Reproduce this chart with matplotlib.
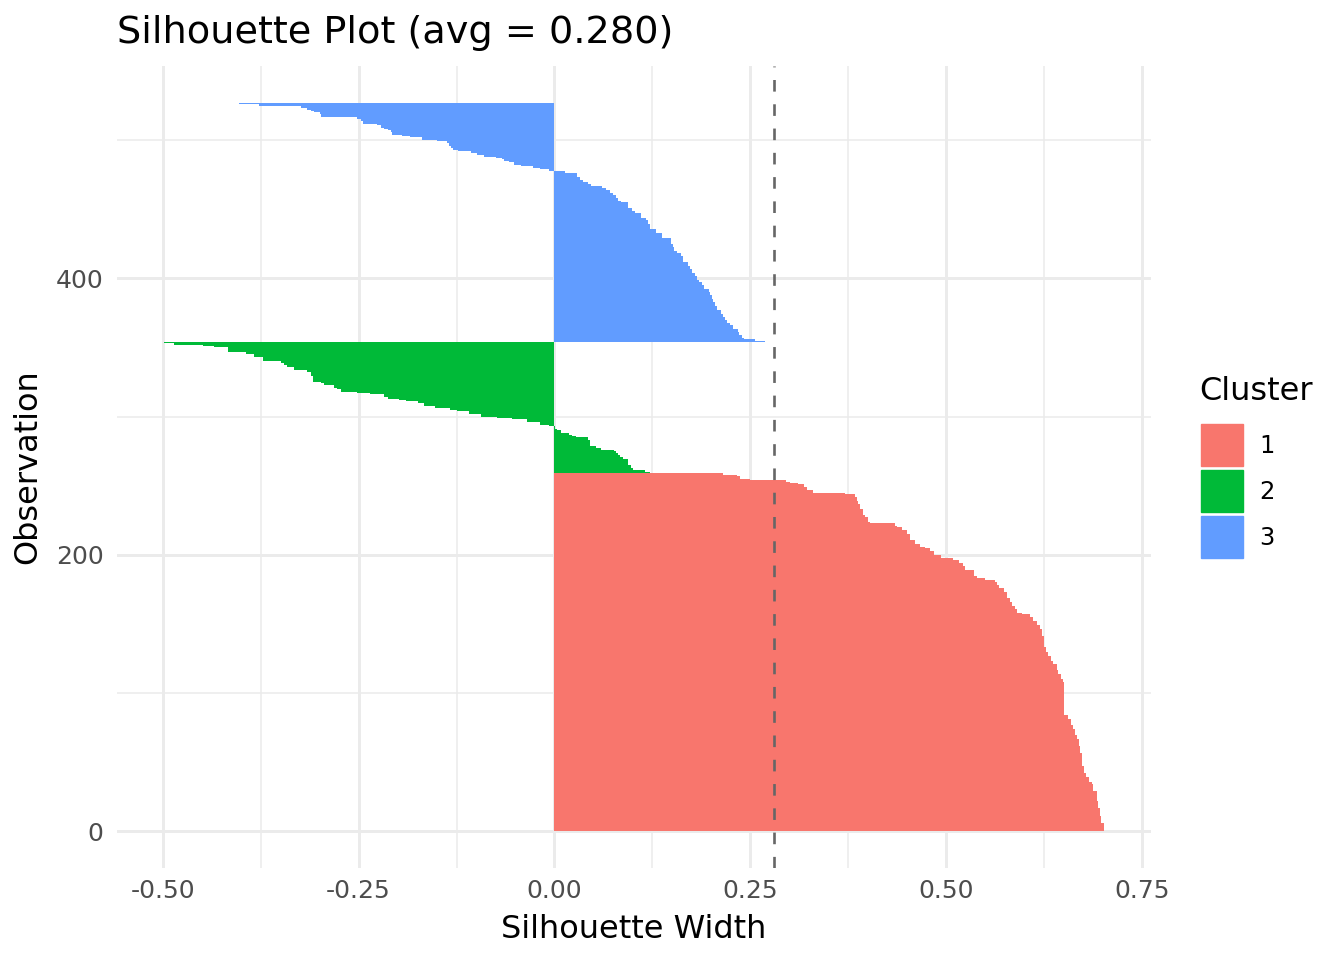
import numpy as np
import matplotlib
matplotlib.use('Agg')
import matplotlib.pyplot as plt
import matplotlib.patches as mpatches
from matplotlib.ticker import MultipleLocator

plt.rcParams['font.family'] = ['DejaVu Sans']

# silhouette widths read as runs (width, number of observations), bottom of each block upward
c1_width = [0.701, 0.698, 0.696, 0.694, 0.692, 0.688, 0.686, 0.682, 0.679, 0.676,
            0.674, 0.671, 0.669, 0.667, 0.665, 0.662, 0.659, 0.656, 0.651, 0.649,
            0.647, 0.643, 0.641, 0.637, 0.634, 0.630, 0.628, 0.625, 0.622, 0.620,
            0.616, 0.611, 0.607, 0.597, 0.591, 0.588, 0.584, 0.581, 0.578, 0.574,
            0.567, 0.565, 0.562, 0.550, 0.540, 0.535, 0.524, 0.522, 0.517, 0.509,
            0.494, 0.484, 0.480, 0.473, 0.467, 0.460, 0.454, 0.450, 0.443, 0.437,
            0.435, 0.403, 0.400, 0.397, 0.394, 0.390, 0.388, 0.386, 0.384, 0.371,
            0.330, 0.322, 0.318, 0.311, 0.301, 0.295, 0.250, 0.237, 0.233, 0.215]
c1_count = [6, 5, 6, 5, 7, 5, 2, 3, 3, 5,
            10, 5, 5, 3, 4, 3, 4, 3, 24, 2,
            4, 3, 4, 2, 4, 3, 3, 8, 5, 3,
            3, 3, 2, 1, 3, 2, 3, 3, 4, 3,
            2, 2, 2, 1, 2, 4, 3, 2, 2, 2,
            2, 3, 2, 1, 2, 3, 4, 3, 2, 1,
            2, 1, 3, 2, 4, 4, 2, 3, 2, 1,
            2, 2, 2, 1, 1, 1, 1, 2, 1, 1]

c2_width = [0.122, 0.115, 0.100, 0.098, 0.094, 0.087, 0.084, 0.081, 0.079, 0.076,
            0.060, 0.053, 0.045, 0.043, 0.027, 0.023, 0.019, 0.008, 0.003, 0.0005,
            -0.007, -0.018, -0.035, -0.054, -0.073, -0.094, -0.109, -0.125, -0.133, -0.152,
            -0.167, -0.174, -0.190, -0.199, -0.212, -0.218, -0.235, -0.252, -0.273, -0.277,
            -0.282, -0.294, -0.298, -0.308, -0.311, -0.316, -0.333, -0.341, -0.345, -0.349,
            -0.372, -0.384, -0.394, -0.417, -0.435, -0.449, -0.486, -0.498]
c2_count = [1, 1, 2, 2, 4, 2, 1, 2, 1, 1,
            1, 2, 4, 2, 1, 1, 1, 2, 1, 2,
            1, 2, 2, 1, 1, 2, 2, 1, 1, 2,
            2, 1, 1, 1, 1, 2, 1, 1, 2, 1,
            2, 1, 1, 4, 3, 2, 2, 1, 2, 1,
            3, 2, 2, 3, 1, 1, 1, 1]

c3_width = [0.269, 0.256, 0.242, 0.239, 0.236, 0.234, 0.228, 0.224, 0.220, 0.218,
            0.215, 0.212, 0.208, 0.205, 0.203, 0.201, 0.198, 0.197, 0.191, 0.188,
            0.185, 0.182, 0.179, 0.176, 0.173, 0.170, 0.164, 0.161, 0.156, 0.153,
            0.151, 0.149, 0.137, 0.130, 0.122, 0.120, 0.117, 0.111, 0.103, 0.099,
            0.0935, 0.085, 0.081, 0.078, 0.075, 0.071, 0.066, 0.061, 0.047, 0.043,
            0.037, 0.032, 0.029, 0.014,
            -0.007, -0.019, -0.028, -0.043, -0.052, -0.058, -0.065, -0.067, -0.075, -0.090,
            -0.099, -0.107, -0.123, -0.129, -0.132, -0.134, -0.137, -0.150, -0.169, -0.184,
            -0.194, -0.207, -0.208, -0.212, -0.218, -0.221, -0.226, -0.244, -0.245, -0.247,
            -0.252, -0.298, -0.299, -0.307, -0.311, -0.316, -0.324, -0.377, -0.403]
c3_count = [1, 1, 1, 2, 2, 2, 3, 2, 2, 2,
            2, 3, 3, 3, 2, 3, 2, 2, 3, 2,
            2, 3, 2, 3, 2, 3, 4, 2, 2, 3,
            2, 4, 4, 3, 3, 3, 2, 3, 2, 2,
            4, 1, 2, 2, 2, 2, 1, 2, 1, 2,
            1, 2, 3, 2,
            1, 1, 1, 1, 2, 1, 1, 1, 1, 1,
            2, 1, 1, 1, 2, 2, 1, 1, 2, 1,
            1, 2, 1, 1, 1, 2, 1, 1, 1, 1,
            2, 2, 1, 1, 1, 1, 2, 1, 1]

avg_width = 0.280
cluster_names = ['1', '2', '3']
cluster_colors = ['#F8766D', '#00BA38', '#619CFF']

widths = []
colors = []
for w, n, c in zip([c1_width, c2_width, c3_width], [c1_count, c2_count, c3_count], cluster_colors):
    s = np.repeat(w, n)
    widths.append(s)
    colors += [c] * len(s)
widths = np.concatenate(widths)
obs = np.arange(len(widths))

fig = plt.figure(figsize=(13.44, 9.6), dpi=100)
ax = fig.add_axes([0.0873, 0.0961, 0.7688, 0.8348])

ax.barh(obs, widths, height=1.0, align='edge', color=colors, linewidth=0)
ax.axvline(avg_width, color='#666666', lw=1.9, linestyle=(0, (4.4, 4.8)))

# ggplot style expansion
lo, hi = min(widths.min(), 0), max(widths.max(), 0)
ax.set_xlim(lo - 0.05 * (hi - lo), hi + 0.05 * (hi - lo))
ax.set_ylim(-0.05 * len(widths), len(widths) * 1.05)

ax.set_xticks([-0.5, -0.25, 0, 0.25, 0.5, 0.75])
ax.set_xticklabels(['-0.50', '-0.25', '0.00', '0.25', '0.50', '0.75'])
ax.set_yticks([0, 200, 400])
ax.xaxis.set_minor_locator(MultipleLocator(0.125))
ax.yaxis.set_minor_locator(MultipleLocator(100))
ax.set_axisbelow(True)
ax.grid(which='major', color='#EBEBEB', lw=2.1)
ax.grid(which='minor', color='#EBEBEB', lw=1.1)
for s in ax.spines.values():
    s.set_visible(False)
ax.tick_params(which='both', length=0, labelsize=18, labelcolor='#4D4D4D')
ax.tick_params(axis='x', pad=8)
ax.tick_params(axis='y', pad=10)

ax.set_xlabel('Silhouette Width', fontsize=23, labelpad=8)
ax.set_ylabel('Observation', fontsize=23, labelpad=9)
ax.set_title('Silhouette Plot (avg = 0.280)', loc='left', fontsize=27.5, pad=17)

# legend: title as text, keys below it
fig.text(1199 / 1344, 1 - 392 / 960, 'Cluster', fontsize=23, ha='left', va='center')
handles = [mpatches.Patch(color=c, label=n) for c, n in zip(cluster_colors, cluster_names)]
ax.legend(handles=handles, loc='upper left', frameon=False,
          bbox_to_anchor=(1201 / 1344, 1 - 424 / 960), bbox_transform=fig.transFigure,
          fontsize=17.5, handlelength=1.73, handleheight=2.28,
          labelspacing=0.165, handletextpad=0.68, borderpad=0, borderaxespad=0)

plt.savefig('out.png', dpi=100)
